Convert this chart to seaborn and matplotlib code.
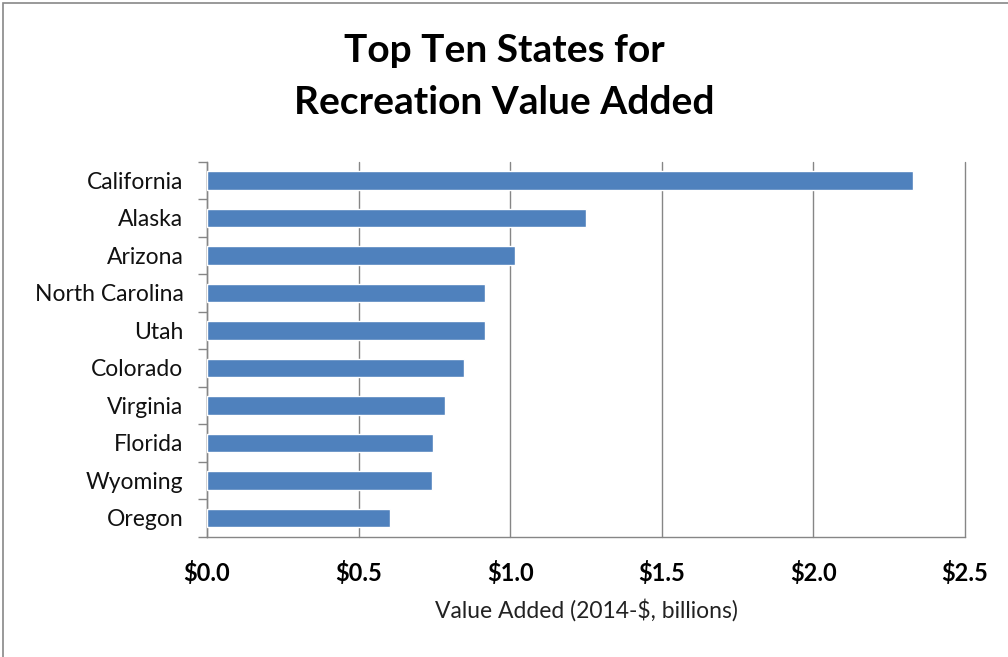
import matplotlib
matplotlib.use("Agg")
import matplotlib.pyplot as plt
import seaborn as sns
import pandas as pd
from matplotlib.ticker import FixedLocator, FuncFormatter
from matplotlib.patches import Rectangle

states = ["California", "Alaska", "Arizona", "North Carolina", "Utah",
          "Colorado", "Virginia", "Florida", "Wyoming", "Oregon"]
values = [2.33, 1.25, 1.016, 0.916, 0.916, 0.848, 0.784, 0.747, 0.742, 0.605]
x_ticks = [0.0, 0.5, 1.0, 1.5, 2.0, 2.5]

sns.set_theme(style="white")
plt.rcParams["font.family"] = ["Lato", "DejaVu Sans"]

df = pd.DataFrame({"state": states, "value": values})

fig = plt.figure(figsize=(10.08, 6.57), dpi=100)
ax = fig.add_axes([207/1008, 1-536.7/657, (965-207)/1008, (536.7-161.7)/657])

sns.barplot(data=df, x="value", y="state", orient="h", color="#4F81BD",
            saturation=1, width=0.5, ax=ax, zorder=3)

ax.set_xlim(0, 2.5)
ax.set_ylim(9.5, -0.5)
ax.xaxis.set_major_locator(FixedLocator(x_ticks))
ax.xaxis.set_major_formatter(FuncFormatter(lambda v, p: f"${v:.1f}"))
ax.grid(axis="x", color="#868686", linewidth=1.0, zorder=0)
for gl in ax.xaxis.get_gridlines():
    gl.set_clip_on(False)
ax.set_axisbelow(True)

for s in ["top", "right"]:
    ax.spines[s].set_visible(False)
for s in ["left", "bottom"]:
    ax.spines[s].set_color("#868686")
    ax.spines[s].set_linewidth(1.0)

ax.tick_params(axis="x", which="major", direction="out", length=6.5,
               width=1.0, color="#868686", pad=11, labelsize=17,
               labelcolor="black")
for lab in ax.get_xticklabels():
    lab.set_fontweight("bold")

ax.tick_params(axis="y", which="major", length=0, pad=17, labelsize=16.5,
               labelcolor="#111111")
ax.yaxis.set_minor_locator(FixedLocator([i - 0.5 for i in range(len(states) + 1)]))
ax.tick_params(axis="y", which="minor", direction="out", length=6.5,
               width=1.0, color="#868686", left=True)

ax.set_ylabel("")
ax.set_xlabel("Value Added (2014-$, billions)", fontsize=16.5, color="#222222",
              labelpad=10)

fig.text(0.5, 1 - 50/657, "Top Ten States for", ha="center", va="center",
         fontsize=28, fontweight="bold", color="black")
fig.text(0.5, 1 - 103/657, "Recreation Value Added", ha="center", va="center",
         fontsize=28, fontweight="bold", color="black")

fig.patches.append(Rectangle((3/1008, -0.1), 1.2, 1 - 3/657 + 0.1,
                             transform=fig.transFigure, fill=False,
                             edgecolor="#888888", linewidth=1.2))

fig.savefig("out.png", dpi=100)
